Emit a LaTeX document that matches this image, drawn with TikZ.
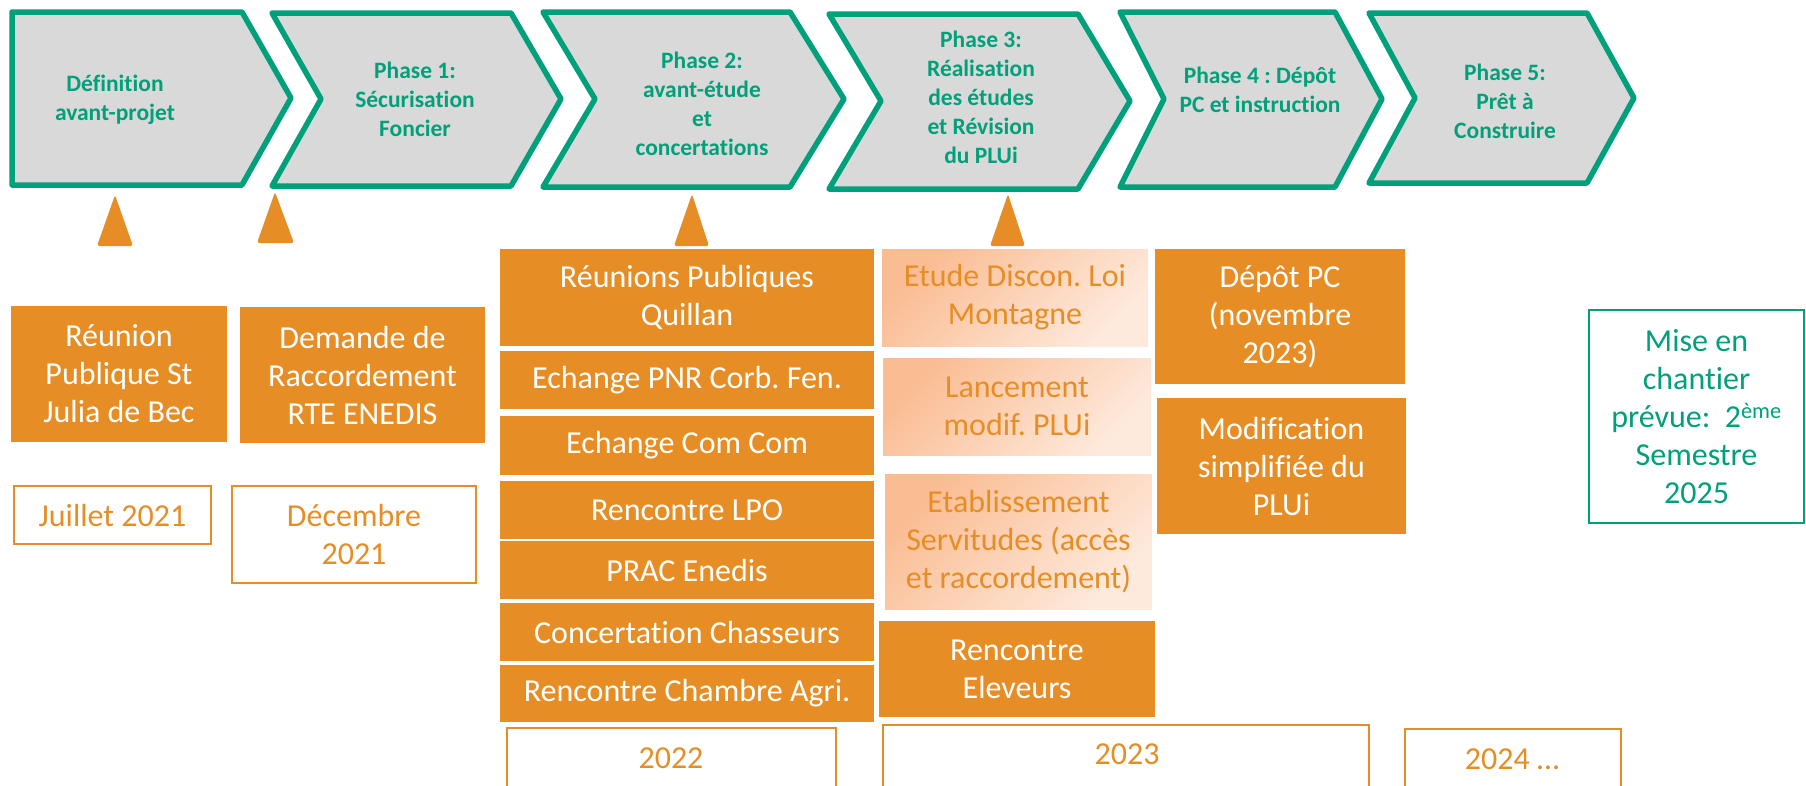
\documentclass[tikz,border=0pt]{standalone}
\usepackage{fontspec}
\setmainfont{Carlito}[Ligatures=NoCommon]
\frenchspacing
\definecolor{grn}{RGB}{0,160,122}
\definecolor{chevfill}{RGB}{217,217,217}
\definecolor{org}{RGB}{230,142,37}
\definecolor{peachD}{RGB}{250,188,146}
\definecolor{peachL}{RGB}{254,234,221}
\tikzset{
  chev/.style={draw=grn, line width=5.5pt, fill=chevfill, line join=round},
  chevtxt/.style={text=grn, font=\bfseries\fontsize{23.5}{29}\selectfont, align=center, inner sep=0pt},
  mrk/.style={fill=org, rounded corners=2.5pt},
  boxfont/.style={font=\fontsize{32}{38}\selectfont, align=center, inner sep=0pt, outer sep=0pt},
  obox/.style={boxfont, fill=org, text=white},
  lbox/.style={boxfont, top color=peachD, bottom color=peachL, shading angle=45, text=org},
  dbox/.style={boxfont, draw=org, line width=2pt, text=org},
  dline/.style={draw=org, line width=2pt},
  dtxt/.style={boxfont, text=org},
  gbox/.style={boxfont, draw=grn, line width=2.5pt, text=grn},
}
\begin{document}
\begin{tikzpicture}[x=1pt,y=-1pt]
\path[use as bounding box] (0,0) rectangle (1806,785);
\clip (0,0) rectangle (1806,785);
% chevrons
\draw[chev] (12,12) -- (242,12) -- (291,98) -- (242,185) -- (12,185) -- cycle;
\draw[chev] (272,13) -- (511,13) -- (561,99) -- (511,186) -- (272,186) -- (321,99) -- cycle;
\draw[chev] (543,12) -- (790,12) -- (844,99) -- (790,187) -- (543,187) -- (595,99) -- cycle;
\draw[chev] (829,14) -- (1078,14) -- (1130,101) -- (1078,189) -- (829,189) -- (881,101) -- cycle;
\draw[chev] (1120,12) -- (1335,12) -- (1382,99) -- (1335,187) -- (1120,187) -- (1164,99) -- cycle;
\draw[chev] (1369,13) -- (1587,13) -- (1634,98) -- (1587,183) -- (1369,183) -- (1415,98) -- cycle;
\node[chevtxt] (c1) at (115,100) {Définition\\avant-projet};
\node[chevtxt] (c2) at (415,99) {Phase 1:\\Sécurisation\\Foncier};
\node[chevtxt] (c3) at (702,103.5) {Phase 2:\\avant-étude\\et\\concertations};
\node[chevtxt] (c4) at (981,97.5) {Phase 3:\\Réalisation\\des études\\et Révision\\du PLUi};
\node[chevtxt] (c5) at (1260,89.5) {Phase 4 : Dépôt\\PC et instruction};
\node[chevtxt] (c6) at (1505,101.5) {Phase 5:\\Prêt à\\Construire};
% markers
\fill[mrk] (115,195) -- (133,246) -- (97,246) -- cycle;
\fill[mrk] (275,192) -- (294,243) -- (257,243) -- cycle;
\fill[mrk] (692,194) -- (709,246) -- (674,246) -- cycle;
\fill[mrk] (1008,194) -- (1025,246) -- (990,246) -- cycle;
% 2021
\node[obox, minimum width=216pt, minimum height=136pt] (r1) at (119,374) {Réunion\\Publique St\\Julia de Bec};
\node[obox, minimum width=245pt, minimum height=136pt] (r2) at (362.5,375) {Demande de\\Raccordement\\RTE ENEDIS};
\node[dbox, minimum width=197pt, minimum height=58pt] (d1) at (112.5,515) {Juillet 2021};
\node[dbox, minimum width=244pt, minimum height=97pt] (d2) at (354,534.5) {Décembre\\2021};
% 2022
\node[obox, minimum width=374pt, minimum height=97pt] (q1) at (687,297.5) {Réunions Publiques\\Quillan};
\node[obox, minimum width=374pt, minimum height=58pt] (q2) at (687,380) {Echange PNR Corb. Fen.};
\node[obox, minimum width=374pt, minimum height=59pt] (q3) at (687,445.5) {Echange Com Com};
\node[obox, minimum width=374pt, minimum height=58pt] (q4) at (687,510) {Rencontre LPO};
\node[obox, minimum width=374pt, minimum height=58pt] (q5) at (687,570) {PRAC Enedis};
\node[obox, minimum width=374pt, minimum height=58pt] (q6) at (687,632) {Concertation Chasseurs};
\node[obox, minimum width=374pt, minimum height=57pt] (q7) at (687,693.5) {Rencontre Chambre Agri.};
\draw[dline] (507,800) -- (507,728) -- (836,728) -- (836,800);
\node[dtxt] (t2022) at (671,758) {2022};
% 2023
\node[lbox, minimum width=266pt, minimum height=97pt] (l1) at (1015,297.5) {Etude Discon. Loi\\Montagne};
\node[lbox, minimum width=268pt, minimum height=97pt] (l2) at (1017,406.5) {Lancement\\modif. PLUi};
\node[lbox, minimum width=267pt, minimum height=135pt] (l3) at (1018.5,541.5) {Etablissement\\Servitudes (accès\\et raccordement)};
\node[obox, minimum width=276pt, minimum height=96pt] (e1) at (1017,669) {Rencontre\\Eleveurs};
\node[obox, minimum width=250pt, minimum height=135pt] (p1) at (1280,316.5) {Dépôt PC\\(novembre\\2023)};
\node[obox, minimum width=249pt, minimum height=136pt] (p2) at (1281.5,466) {Modification\\simplifiée du\\PLUi};
\draw[dline] (883,800) -- (883,725) -- (1369,725) -- (1369,800);
\node[dtxt] (t2023) at (1127,754) {2023};
% 2024+
\draw[dline] (1405,800) -- (1405,729) -- (1621,729) -- (1621,800);
\node[dtxt] (t2024) at (1512,759) {2024 …};
\node[gbox, minimum width=215pt, minimum height=213pt] (g1) at (1696.5,416.5) {Mise en\\chantier\\prévue:\ \ 2\textsuperscript{ème}\\Semestre\\2025};
\end{tikzpicture}
\end{document}
